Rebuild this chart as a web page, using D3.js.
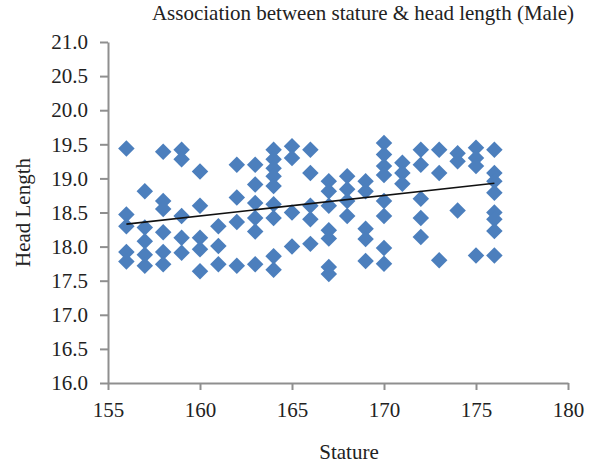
<!DOCTYPE html>
<html>
<head>
<meta charset="utf-8">
<script src="https://cdn.jsdelivr.net/npm/d3@7/dist/d3.min.js"></script>
<style>
  body { margin: 0; background: #fff; }
  svg { display: block; }
  .axis path, .axis line { stroke: #8f8f8f; stroke-width: 2px; }
  .axis text { font-family: "Liberation Serif", serif; font-size: 21px; fill: #222; }
</style>
</head>
<body>
<div id="chart"></div>
<script>
// stature (cm) and the head lengths read at each stature
var statures = [156, 157, 158, 159, 160, 161, 162, 163, 164, 165, 166,
                167, 168, 169, 170, 171, 172, 173, 174, 175, 176];
var headLengths = [
  [19.44, 18.47, 18.30, 17.92, 17.78],
  [18.81, 18.28, 18.08, 17.88, 17.72],
  [19.39, 18.67, 18.55, 18.21, 17.92, 17.74],
  [19.42, 19.28, 18.45, 18.13, 17.91],
  [19.10, 18.60, 18.13, 17.96, 17.64],
  [18.30, 18.01, 17.74],
  [19.20, 18.72, 18.36, 17.72],
  [19.20, 18.91, 18.64, 18.42, 18.22, 17.74],
  [19.42, 19.28, 19.15, 19.03, 18.89, 18.62, 18.42, 17.86, 17.66],
  [19.47, 19.30, 18.50, 18.00],
  [19.42, 19.08, 18.60, 18.40, 18.04],
  [18.96, 18.81, 18.60, 18.24, 18.12, 17.70, 17.60],
  [19.03, 18.84, 18.67, 18.45],
  [18.96, 18.81, 18.26, 18.11, 17.79],
  [19.52, 19.35, 19.18, 19.05, 18.67, 18.45, 17.98, 17.75],
  [19.23, 19.08, 18.92],
  [19.42, 19.20, 18.70, 18.42, 18.14],
  [19.42, 19.08, 17.80],
  [19.37, 19.25, 18.53],
  [19.45, 19.30, 19.18, 17.87],
  [19.42, 19.08, 18.96, 18.79, 18.50, 18.40, 18.23, 17.87]
];
// linear trend line end points
var trendX = [156, 176];
var trendY = [18.33, 18.93];

var xTicks = [155, 160, 165, 170, 175, 180];
var yTicks = [16.0, 16.5, 17.0, 17.5, 18.0, 18.5, 19.0, 19.5, 20.0, 20.5, 21.0];

var width = 611, height = 465;

var svg = d3.select("#chart")
  .append("svg")
  .attr("width", width)
  .attr("height", height);

var x = d3.scaleLinear().domain([155, 180]).range([108, 568]);
var y = d3.scaleLinear().domain([16, 21]).range([383, 42]);

// flatten into points
var points = [];
statures.forEach(function(s, i) {
  headLengths[i].forEach(function(v) { points.push({ stature: s, head: v }); });
});

// axes
svg.append("g")
  .attr("class", "axis")
  .attr("transform", "translate(0," + y(16) + ")")
  .call(d3.axisBottom(x).tickValues(xTicks).tickSize(7).tickSizeOuter(0).tickPadding(12).tickFormat(d3.format("d")));

svg.append("g")
  .attr("class", "axis")
  .attr("transform", "translate(" + x(155) + ",0)")
  .call(d3.axisLeft(y).tickValues(yTicks).tickSize(8).tickSizeOuter(0).tickPadding(12).tickFormat(d3.format(".1f")));

// points
var diamond = d3.symbol().type(d3.symbolSquare).size(136);
svg.append("g")
  .selectAll("path")
  .data(points)
  .enter()
  .append("path")
    .attr("d", diamond)
    .attr("transform", function(d) { return "translate(" + x(d.stature) + "," + y(d.head) + ") rotate(45)"; })
    .style("fill", "#4c7fbd");

// trend line
var line = d3.line()
  .x(function(d) { return x(d[0]); })
  .y(function(d) { return y(d[1]); });
svg.append("path")
  .attr("d", line(d3.zip(trendX, trendY)))
  .style("stroke", "#111")
  .style("stroke-width", 1.6)
  .style("fill", "none");

// titles
svg.append("text")
  .attr("x", 363)
  .attr("y", 20)
  .attr("text-anchor", "middle")
  .style("font-family", "Liberation Serif, serif")
  .style("font-size", "21px")
  .style("fill", "#222")
  .text("Association between stature & head length (Male)");

svg.append("text")
  .attr("x", 349)
  .attr("y", 459)
  .attr("text-anchor", "middle")
  .style("font-family", "Liberation Serif, serif")
  .style("font-size", "21px")
  .style("fill", "#222")
  .text("Stature");

svg.append("text")
  .attr("transform", "translate(30," + ((y(16) + y(21)) / 2) + ") rotate(-90)")
  .attr("text-anchor", "middle")
  .style("font-family", "Liberation Serif, serif")
  .style("font-size", "21px")
  .style("fill", "#222")
  .text("Head Length");
</script>
</body>
</html>
